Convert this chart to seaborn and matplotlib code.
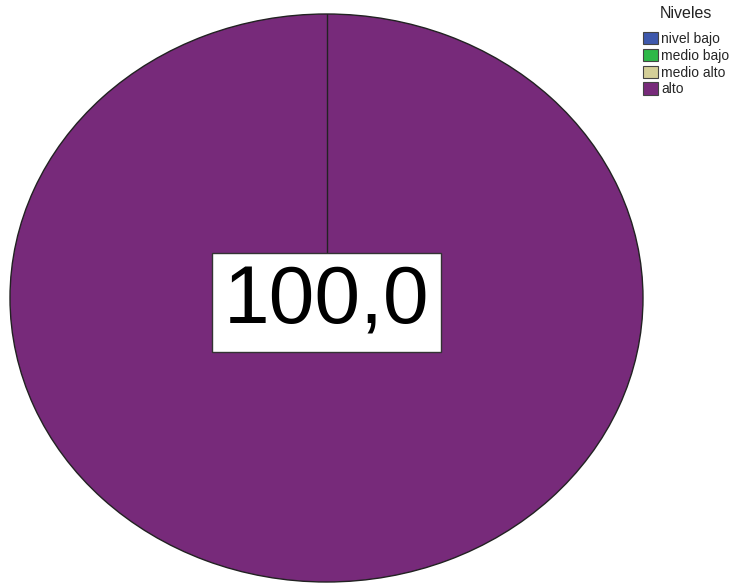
import matplotlib
matplotlib.use("Agg")
import matplotlib.pyplot as plt
import seaborn as sns

niveles = ["nivel bajo", "medio bajo", "medio alto", "alto"]
porcentajes = [0.0, 0.0, 0.0, 100.0]
colores = ["#3e58ac", "#2eb848", "#d4cf98", "#772a7a"]

sns.set_theme(style="white")
plt.rcParams["font.family"] = ["Liberation Sans", "DejaVu Sans"]

W, H = 732, 583
fig = plt.figure(figsize=(W / 100, H / 100), dpi=100)
# pie drawn as an ellipse filling most of the canvas
ax = fig.add_axes([10 / W, 1 / H, 633 / W, 568 / H])

wedges, _ = ax.pie(porcentajes, colors=colores, startangle=90, counterclock=False,
                   wedgeprops=dict(edgecolor="#222222", linewidth=1.0))
ax.set_aspect("auto")
ax.set_xlim(-1.0, 1.0)
ax.set_ylim(-1.0, 1.0)
ax.axis("off")

# slice boundary at the start angle (12 o'clock)
ax.plot([0, 0], [0, 1], color="#222222", linewidth=1.0, zorder=3)

total = sum(porcentajes)
etiqueta = f"{porcentajes[-1] / total * 100:.1f}".replace(".", ",")
ax.text(0, -0.015, etiqueta, ha="center", va="center", fontsize=59, color="black",
        bbox=dict(boxstyle="square,pad=0.14", facecolor="white", edgecolor="#333333",
                  linewidth=1.0), zorder=5)

fig.text(686 / W, 1 - 13 / H, "Niveles", ha="center", va="center", fontsize=11.5,
         color="#222222")
leg = fig.legend(wedges, niveles, loc="upper left",
                 bbox_to_anchor=(643 / W, 1 - 32 / H), frameon=False, fontsize=10,
                 handlelength=1.05, handleheight=1.0, handletextpad=0.25,
                 labelspacing=0.2, borderaxespad=0, borderpad=0)
for h in leg.legend_handles:
    h.set_edgecolor("#444444")
    h.set_linewidth(0.8)

fig.savefig("out.png", dpi=100)
